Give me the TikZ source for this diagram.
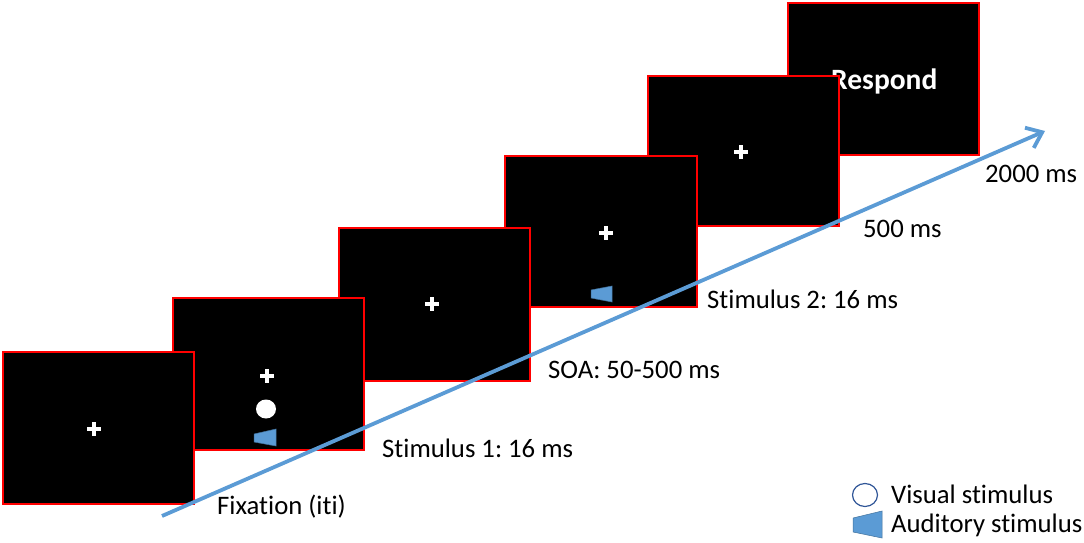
\documentclass[tikz,border=0pt]{standalone}
\usepackage{fontspec}
\setmainfont[Ligatures=NoCommon]{Carlito}
\frenchspacing
\usetikzlibrary{arrows.meta}
\definecolor{tlblue}{HTML}{5B9BD5}
\definecolor{spkline}{HTML}{41719C}
\definecolor{circline}{HTML}{2F5597}
\tikzset{
  screen/.style={fill=black, draw=red, line width=1.1pt, minimum width=191pt, minimum height=152pt, inner sep=0pt, outer sep=0pt},
  lbl/.style={anchor=base west, inner sep=0pt, font=\fontsize{26.7}{30}\selectfont},
  crossmark/.style={white, line width=3.8pt},
  speaker/.style={fill=tlblue, draw=spkline, line width=0.5pt},
  timeline/.style={draw=tlblue, line width=3.8pt, -{Straight Barb[length=14pt,width=22pt]}}
}
\begin{document}
\begin{tikzpicture}[x=1pt,y=-1pt]
\useasboundingbox (0,0) rectangle (1084,543);
% screens, back to front
\node[screen] (s6) at (883.5,79) {};
\node[anchor=base west, inner sep=0pt, text=white, font=\fontsize{29.5}{34}\selectfont\bfseries] (resp) at (831,89) {Respond};
\node[screen, minimum height=150pt] (s5) at (743.5,151) {};
\node[screen, minimum height=151pt, minimum width=192pt] (s4) at (601,231.5) {};
\node[screen, minimum height=153pt] (s3) at (434.5,304.5) {};
\node[screen] (s2) at (268.5,374) {};
\node[screen] (s1) at (98.5,428) {};
% fixation crosses
\foreach \cx/\cy in {94/429, 267/376, 432/304, 606/233, 741/152}{
  \draw[crossmark] (\cx-7,\cy) -- (\cx+7,\cy);
  \draw[crossmark] (\cx,\cy-7) -- (\cx,\cy+7);
}
% stimulus 1
\fill[white] (266,409) ellipse [x radius=10, y radius=9.5];
\draw[speaker] (254,434) -- (276,429) -- (276,446) -- (254,442) -- cycle;
% stimulus 2
\draw[speaker] (591,290) -- (612,286) -- (612,302) -- (591,298) -- cycle;
% timeline
\coordinate (a0) at (162,516);
\coordinate (a1) at (1045,131);
\draw[timeline] (a0) -- (a1);
% labels
\node[lbl] (l1) at (217,514) {Fixation (iti)};
\node[lbl] (l2) at (382,457) {Stimulus 1: 16 ms};
\node[lbl] (l3) at (548,378) {SOA: 50-500 ms};
\node[lbl] (l4) at (707,308) {Stimulus 2: 16 ms};
\node[lbl] (l5) at (863,237) {500 ms};
\node[lbl] (l6) at (985,182) {2000 ms};
% legend
\draw[circline, line width=1.2pt] (865,495) ellipse [x radius=12.5, y radius=11.5];
\draw[speaker] (853,518) -- (882,511) -- (882,538) -- (853,532) -- cycle;
\node[lbl] (lv) at (891,503) {Visual stimulus};
\node[lbl] (la) at (891,532) {Auditory stimulus};
\end{tikzpicture}
\end{document}
